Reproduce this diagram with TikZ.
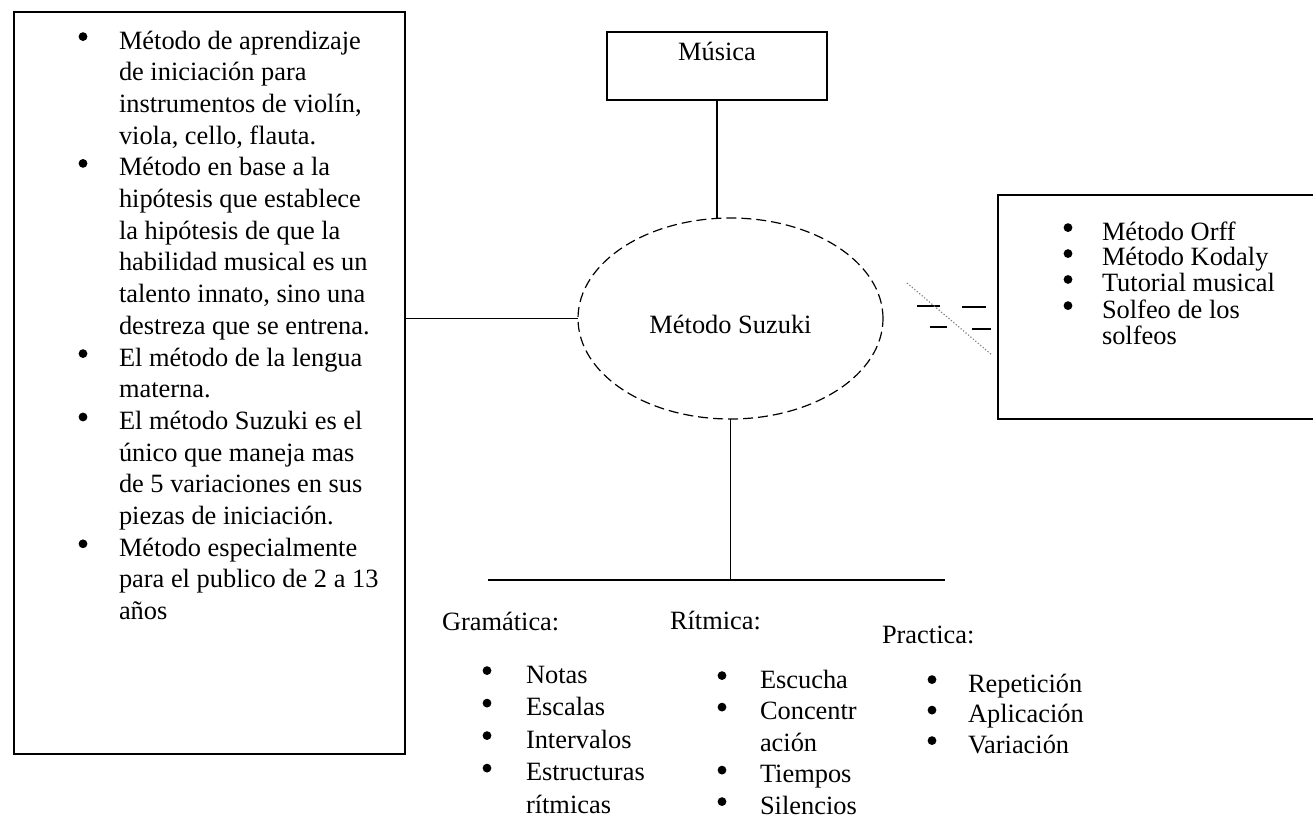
\documentclass[tikz,border=0pt]{standalone}
\usepackage{fontspec}
\setmainfont{Liberation Serif}
\usetikzlibrary{shapes.geometric}
\newlength{\bulw}
\newcommand{\bul}{\makebox[\bulw][l]{\tikz[baseline=0pt]\fill (2.2pt,6.2pt) circle (2.2pt);}}
\begin{document}
\begin{tikzpicture}[x=0.5pt,y=-0.5pt,
  every node/.style={inner sep=0pt, outer sep=0pt, font=\fontsize{13.2}{15.85}\selectfont},
  box/.style={draw, line width=0.6pt, rectangle},
  conn/.style={draw, line width=0.6pt},
  lst/.style={anchor=base west},
  hdr/.style={anchor=base west}]
\useasboundingbox (0,0) rectangle (1313,821);
\clip (0,0) rectangle (1313,821);

% left box
\node[box, minimum width=195.5pt, minimum height=371pt] (left) at (209.5,383) {};
\node[lst] (leftlist) at (78.6,49) {\setlength{\bulw}{20.2pt}\begin{tabular}[t]{@{}l@{}l@{}}
\bul & Método de aprendizaje\\
& de iniciación para\\
& instrumentos de violín,\\
& viola, cello, flauta.\\
\bul & Método en base a la\\
& hipótesis que establece\\
& la hipótesis de que la\\
& habilidad musical es un\\
& talento innato, sino una\\
& destreza que se entrena.\\
\bul & El método de la lengua\\
& materna.\\
\bul & El método Suzuki es el\\
& único que maneja mas\\
& de 5 variaciones en sus\\
& piezas de iniciación.\\
\bul & Método especialmente\\
& para el publico de 2 a 13\\
& años
\end{tabular}};

% Musica
\node[box, anchor=north, minimum width=110pt, text height=14pt, text depth=20pt] (musica) at (717,32) {Música};

% Suzuki ellipse
\node[ellipse, draw, line width=0.6pt, dash pattern=on 5pt off 2.5pt, minimum width=152.5pt, minimum height=100.5pt, text height=20pt, text depth=5pt] (suzuki) at (730.5,318.5) {Método Suzuki};

% right box
\node[box, anchor=north west, minimum width=170pt, minimum height=112pt] (right) at (998,195) {};
\node[lst, font=\fontsize{13.2}{12.65}\selectfont] (rightlist) at (1063.6,240) {\setlength{\bulw}{19.2pt}\begin{tabular}[t]{@{}l@{}l@{}}
\bul & Método Orff\\
\bul & Método Kodaly\\
\bul & Tutorial musical\\
\bul & Solfeo de los\\
& solfeos
\end{tabular}};

% connectors
\draw[conn] (musica.south) -- (musica.south |- suzuki.north);
\draw[conn] (suzuki.west) -- (suzuki.west -| left.east);
\coordinate (hl) at (488,580);
\coordinate (hr) at (945,580);
\draw[conn] (hl) -- (hr);
\draw[conn] (suzuki.south) -- (suzuki.south |- hl);

% marks between ellipse and right box
\coordinate (ra1) at (917,306); \coordinate (ra2) at (940,306);
\coordinate (ra3) at (962,307); \coordinate (ra4) at (986,307);
\coordinate (rb1) at (930,327); \coordinate (rb2) at (947,327);
\coordinate (rb3) at (972,329); \coordinate (rb4) at (991,329);
\coordinate (rd1) at (907,283); \coordinate (rd2) at (992,355);
\draw[conn] (ra1) -- (ra2) (ra3) -- (ra4) (rb1) -- (rb2) (rb3) -- (rb4);
\draw[conn, densely dotted, gray] (rd1) -- (rd2);

% bottom headers
\node[hdr] (gram) at (442,630) {Gramática:};
\node[hdr] (ritm) at (670,629) {Rítmica:};
\node[hdr] (prac) at (882,643) {Practica:};

\node[lst, font=\fontsize{13.2}{16.25}\selectfont] (gramlist) at (482.6,683) {\setlength{\bulw}{21.7pt}\begin{tabular}[t]{@{}l@{}l@{}}
\bul & Notas\\
\bul & Escalas\\
\bul & Intervalos\\
\bul & Estructuras\\
& rítmicas
\end{tabular}};
\node[lst, font=\fontsize{13.2}{15.75}\selectfont] (ritmlist) at (717.6,688) {\setlength{\bulw}{21.2pt}\begin{tabular}[t]{@{}l@{}l@{}}
\bul & Escucha\\
\bul & Concentr\\
& ación\\
\bul & Tiempos\\
\bul & Silencios
\end{tabular}};
\node[lst, font=\fontsize{13.2}{15.25}\selectfont] (praclist) at (927.6,692) {\setlength{\bulw}{20.2pt}\begin{tabular}[t]{@{}l@{}l@{}}
\bul & Repetición\\
\bul & Aplicación\\
\bul & Variación
\end{tabular}};
\end{tikzpicture}
\end{document}
